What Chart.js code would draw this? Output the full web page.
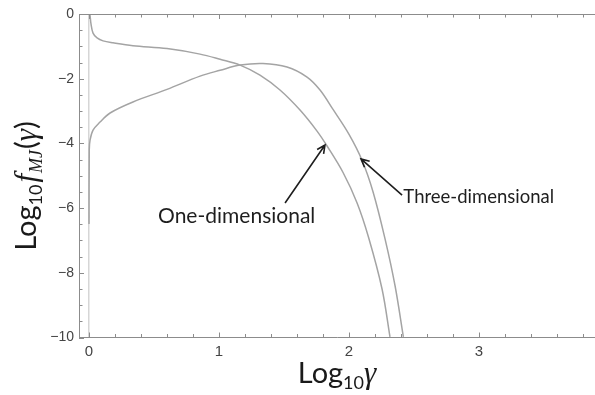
<!DOCTYPE html>
<html>
<head>
<meta charset="utf-8">
<script src="https://cdn.jsdelivr.net/npm/chart.js@4.4.0/dist/chart.umd.min.js"></script>
<style>
  html, body { margin: 0; padding: 0; background: #fff; }
  #wrap { width: 595px; height: 395px; }
</style>
</head>
<body>
<div id="wrap"><canvas id="mjChart" width="595" height="395"></canvas></div>
<script>
// values: x = log10(gamma), y = log10 f_MJ(gamma)
const oneDimX = [0.004, 0.008, 0.015, 0.031, 0.062, 0.108, 0.185, 0.338, 0.600, 0.854, 1.008, 1.162, 1.315, 1.469, 1.623, 1.754, 1.831, 1.954, 2.062, 2.150, 2.254, 2.315];
const oneDimY = [0.00, -0.05, -0.30, -0.59, -0.74, -0.83, -0.89, -0.98, -1.07, -1.24, -1.40, -1.58, -1.89, -2.35, -2.97, -3.62, -4.08, -4.90, -5.84, -6.90, -8.50, -9.98];

const threeDimX = [0.000, 0.002, 0.008, 0.031, 0.085, 0.162, 0.338, 0.600, 0.854, 1.008, 1.162, 1.338, 1.523, 1.677, 1.777, 1.877, 2.000, 2.100, 2.185, 2.277, 2.354, 2.418];
const threeDimY = [-6.49, -4.20, -3.90, -3.59, -3.34, -3.06, -2.72, -2.33, -1.92, -1.74, -1.58, -1.53, -1.64, -1.95, -2.35, -2.95, -3.72, -4.52, -5.50, -6.95, -8.40, -9.98];

const xMajorTicks = [0, 1, 2, 3];
const yMajorTicks = [0, -2, -4, -6, -8, -10];

// labels + arrows, in data units: [text, textX, textY, tailX, tailY, tipX, tipY]
const oneDimNote = ['One-dimensional', 0.531, -6.46, 1.508, -5.84, 1.815, -4.05];
const threeDimNote = ['Three-dimensional', 2.418, -5.85, 2.408, -5.60, 2.092, -4.48];

const AXIS_GREY = '#8c8c8c';
const CURVE_GREY = '#a4a4a4';

function toPoints(xs, ys) {
    return xs.map((x, i) => ({ x: x, y: ys[i] }));
}

function isOn(v, list) {
    return list.some(t => Math.abs(t - v) < 1e-6);
}

// draws a run of text pieces (for subscripts / italics), centred on cx
function drawRich(ctx, parts, cx, baseY) {
    let total = 0;
    parts.forEach(p => { ctx.font = p.font; total += ctx.measureText(p.t).width + (p.gap || 0); });
    let x = cx - total / 2;
    parts.forEach(p => {
        ctx.font = p.font;
        ctx.fillText(p.t, x, baseY + (p.dy || 0));
        x += ctx.measureText(p.t).width + (p.gap || 0);
    });
}

function drawArrow(ctx, x1, y1, x2, y2) {
    const ang = Math.atan2(y2 - y1, x2 - x1);
    const head = 9, spread = 0.45;
    ctx.beginPath();
    ctx.moveTo(x1, y1);
    ctx.lineTo(x2, y2);
    ctx.moveTo(x2 - head * Math.cos(ang - spread), y2 - head * Math.sin(ang - spread));
    ctx.lineTo(x2, y2);
    ctx.lineTo(x2 - head * Math.cos(ang + spread), y2 - head * Math.sin(ang + spread));
    ctx.stroke();
}

// Mathematica style frame: inward ticks on bottom, top and left
const frameTicks = {
    id: 'frameTicks',
    afterDatasetsDraw(chart) {
        const { ctx, chartArea: a, scales: { x, y } } = chart;
        ctx.save();
        ctx.strokeStyle = AXIS_GREY;
        ctx.lineWidth = 1;
        ctx.beginPath();
        ctx.moveTo(a.left, a.top + 0.5);
        ctx.lineTo(a.right, a.top + 0.5);
        x.ticks.forEach(t => {
            const px = Math.round(x.getPixelForValue(t.value)) + 0.5;
            const len = isOn(t.value, xMajorTicks) ? 5 : 3.5;
            ctx.moveTo(px, a.bottom);
            ctx.lineTo(px, a.bottom - len);
            ctx.moveTo(px, a.top);
            ctx.lineTo(px, a.top + len);
        });
        y.ticks.forEach(t => {
            const py = Math.round(y.getPixelForValue(t.value)) + 0.5;
            const len = isOn(t.value, yMajorTicks) ? 5 : 3.5;
            ctx.moveTo(a.left, py);
            ctx.lineTo(a.left + len, py);
        });
        ctx.stroke();
        ctx.restore();
    }
};

const annotations = {
    id: 'annotations',
    afterDraw(chart) {
        const { ctx, chartArea: a, scales: { x, y } } = chart;
        ctx.save();
        ctx.fillStyle = '#1e1e1e';
        ctx.strokeStyle = '#1e1e1e';
        ctx.lineWidth = 1.6;
        ctx.textBaseline = 'alphabetic';

        [[oneDimNote, '21px Lato'], [threeDimNote, '18.5px Lato']].forEach(([n, font]) => {
            ctx.font = font;
            ctx.fillText(n[0], x.getPixelForValue(n[1]), y.getPixelForValue(n[2]));
            drawArrow(ctx, x.getPixelForValue(n[3]), y.getPixelForValue(n[4]),
                           x.getPixelForValue(n[5]), y.getPixelForValue(n[6]));
        });

        // axis titles
        ctx.fillStyle = '#1a1a1a';
        drawRich(ctx, [
            { t: 'Log', font: '29px Lato' },
            { t: '10', font: '18px Lato', dy: 6 },
            { t: 'γ', font: 'italic 31px "Liberation Serif"' }
        ], (a.left + a.right) / 2, 383);

        ctx.translate(36, 186);
        ctx.rotate(-Math.PI / 2);
        drawRich(ctx, [
            { t: 'Log', font: '29px Lato' },
            { t: '10', font: '18px Lato', dy: 6, gap: 2 },
            { t: 'f', font: 'italic 31px "Liberation Serif"', gap: 1 },
            { t: 'MJ', font: 'italic 18px "Liberation Serif"', dy: 6, gap: 1 },
            { t: '(', font: '29px Lato' },
            { t: 'γ', font: 'italic 31px "Liberation Serif"' },
            { t: ')', font: '29px Lato' }
        ], 0, 0);
        ctx.restore();
    }
};

const curveStyle = {
    borderColor: CURVE_GREY,
    borderWidth: 1.5,
    pointRadius: 0,
    fill: false,
    tension: 0.35
};

new Chart(document.getElementById('mjChart'), {
    type: 'line',
    data: {
        datasets: [
            Object.assign({ label: 'One-dimensional', data: toPoints(oneDimX, oneDimY) }, curveStyle),
            Object.assign({ label: 'Three-dimensional', data: toPoints(threeDimX, threeDimY) }, curveStyle)
        ]
    },
    options: {
        responsive: false,
        animation: false,
        layout: { padding: { top: 14, right: 0, left: 0, bottom: 0 } },
        plugins: { legend: { display: false }, tooltip: { enabled: false } },
        scales: {
            x: {
                type: 'linear',
                min: -0.077,
                max: 3.892,
                afterFit: (scale) => { scale.height = 57.5; },
                border: { display: true, color: AXIS_GREY, width: 1 },
                grid: {
                    drawTicks: false,
                    lineWidth: 1.5,
                    color: (c) => (c.tick && Math.abs(c.tick.value) < 1e-9) ? '#d6d6d6' : 'rgba(0,0,0,0)'
                },
                ticks: {
                    stepSize: 0.2,
                    includeBounds: false,
                    autoSkip: false,
                    maxRotation: 0,
                    padding: 5,
                    color: '#444',
                    font: { family: 'Liberation Sans', size: 15 },
                    callback: (v) => isOn(v, xMajorTicks) ? String(Math.round(v)) : ''
                }
            },
            y: {
                type: 'linear',
                min: -10,
                max: 0,
                afterFit: (scale) => { scale.width = 79; },
                border: { display: true, color: AXIS_GREY, width: 1 },
                grid: { display: false, drawTicks: false },
                ticks: {
                    stepSize: 0.5,
                    autoSkip: false,
                    padding: 5,
                    color: '#444',
                    font: { family: 'Liberation Sans', size: 14 },
                    callback: (v) => isOn(v, yMajorTicks) ? (v < 0 ? '\u2212' + Math.abs(Math.round(v)) : '0') : ''
                }
            }
        }
    },
    plugins: [frameTicks, annotations]
});
</script>
</body>
</html>
